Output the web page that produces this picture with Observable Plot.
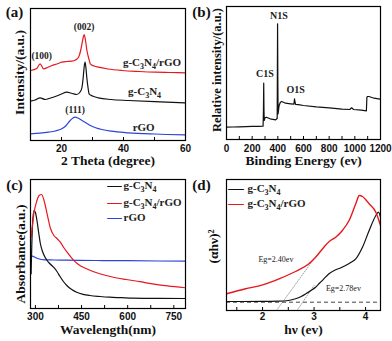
<!DOCTYPE html>
<html><head><meta charset="utf-8">
<script src="https://cdn.jsdelivr.net/npm/d3@7"></script>
<script src="https://cdn.jsdelivr.net/npm/@observablehq/plot@0.6"></script>
<style>
body{margin:0;background:#fff;}
#fig{position:relative;width:392px;height:341px;overflow:hidden;background:#fff;}
#fig svg{position:absolute;}
</style></head><body><div id="fig"></div>
<script>
// ---------- (a) XRD ----------
const xrdThetaComposite = [10, 12, 13.1, 14.2, 15.5, 16.9, 18.5, 20.1, 21.7, 23.3, 24.5, 25.5, 26.1, 26.6, 27.0, 27.3, 27.7, 28.2, 28.8, 29.3, 30.5, 31.9, 35, 39.5, 45, 50.2, 55, 60];
const xrdIComposite     = [70, 72, 76.7, 71.7, 73, 75, 76.5, 78.3, 79, 79.3, 80.5, 83.3, 89, 96.7, 103, 106, 101, 90, 82, 76.7, 74.5, 73.3, 71.5, 70, 69, 68.3, 68, 67.7];
const xrdThetaCN = [10, 11.5, 13.1, 14.7, 16.5, 18, 20, 21.7, 23.5, 24.9, 26, 26.6, 27.0, 27.3, 27.6, 27.9, 28.2, 28.6, 28.9, 30, 31.9, 36, 41.6, 50, 60];
const xrdICN     = [39.3, 40.5, 42.7, 41, 42.5, 44, 46.5, 48.3, 47, 46, 48.5, 53, 63, 73.3, 78.3, 72, 61.7, 52, 46.7, 44.5, 42.7, 41, 40, 38.8, 37.7];
const xrdThetaRGO = [10, 13, 15.8, 18, 20.1, 21.5, 22.8, 23.7, 24.4, 25.3, 26.6, 28, 29.3, 31, 33, 36, 41.6, 50, 60];
const xrdIRGO     = [6.7, 7.3, 8.3, 9.5, 11.7, 15, 20, 22.5, 23.3, 22.5, 20, 17.5, 15, 12.8, 11, 9.3, 7.7, 6.5, 5.7];
const xrdTicks = [20, 40, 60];
const xrdMinorTicks = [20, 30, 40, 50];
const xrdPeakLabels = ["(100)", "(002)", "(111)"];
const xrdPeakTheta  = [13.6, 27.3, 24.4];
const xrdPeakI      = [85, 114, 30.7];
const xrdSeriesLabels = ["g-C3N4/rGO", "g-C3N4", "rGO"];
const xrdSeriesTheta  = [49.2, 46.8, 46.5];
const xrdSeriesI      = [78.3, 49, 13.3];

// ---------- (b) XPS ----------
const xpsBE = [0, 50, 100, 150, 200, 250, 285, 288, 290, 292, 294, 300, 310, 340, 383, 395, 398, 400, 402, 410, 420, 430, 460, 500, 525, 530, 533, 538, 560, 600, 700, 800, 900, 960, 975, 990, 1050, 1090, 1094, 1100, 1110, 1150, 1200];
const xpsI  = [12.3, 12.5, 12.7, 12.9, 13.1, 13.2, 13.3, 30, 56.3, 30, 19, 21.7, 22.3, 20.7, 19.7, 21, 115.7, 60, 25.7, 34, 37.3, 38, 36.3, 35.7, 35.3, 40.7, 38, 35.2, 34.8, 34, 32.7, 31.7, 30.3, 30, 31.7, 30, 29.3, 28.7, 42.3, 43, 43, 41.3, 40.3];
const xpsTicks = [0, 200, 400, 600, 800, 1000, 1200];
const xpsMinorTicks = [100, 200, 300, 400, 500, 600, 700, 800, 900, 1000, 1100];
const xpsPeakLabels = ["C1S", "N1S", "O1S"];
const xpsPeakBE     = [300, 409, 539];
const xpsPeakI      = [66, 124, 50];

// ---------- (c) UV-vis ----------
const uvWlCN = [286, 290, 295, 300, 305, 311, 316, 322, 330, 338, 348, 359, 370, 380, 391, 402, 418, 434, 455, 477, 510, 541, 580, 616, 700, 788];
const uvACN  = [34.7, 80, 98, 96, 88, 75, 65, 58, 52, 48, 44.5, 41.3, 37, 32, 27, 23, 19, 16.3, 14.2, 13, 12, 11.3, 10.8, 10.3, 10.1, 10];
const uvWlComposite = [286, 290, 295, 305, 312, 320, 328, 338, 349, 360, 370, 381, 392, 403, 423, 440, 466, 509, 550, 595, 640, 681, 730, 788];
const uvAComposite  = [71, 82, 95, 108, 113, 114, 108, 94.7, 80, 73, 70, 66.3, 61, 56.3, 48.7, 44, 39.7, 34.7, 31.5, 29, 26.8, 24.7, 22.7, 20.7];
const uvWlRGO = [286, 290, 300, 310, 330, 360, 400, 500, 600, 700, 788];
const uvARGO  = [52, 52.3, 51, 49.7, 48.7, 48.5, 48.3, 48, 47.8, 47.5, 47.3];
const uvTicks = [300, 450, 600, 750];
const uvMinorTicks = [300, 375, 450, 525, 600, 675, 750];
const uvLegend = ["g-C3N4", "g-C3N4/rGO", "rGO"];

// ---------- (d) Tauc ----------
const taucHvCN = [1.30, 1.6, 2.0, 2.32, 2.5, 2.64, 2.75, 2.84, 2.94, 3.03, 3.11, 3.19, 3.29, 3.42, 3.52, 3.61, 3.71, 3.81, 3.94, 4.07, 4.2, 4.25, 4.29];
const taucYCN  = [9, 9, 9.1, 9.3, 10, 11.7, 14, 16.7, 20, 23.3, 27.5, 31.7, 36.7, 40.7, 42.7, 45, 48, 51.7, 63.3, 80, 95, 98.3, 93.3];
const taucHvComposite = [1.30, 1.67, 2.0, 2.32, 2.64, 2.9, 3.03, 3.19, 3.3, 3.42, 3.55, 3.68, 3.81, 3.88, 3.94, 4.0, 4.07, 4.2, 4.29];
const taucYComposite  = [16.7, 21.7, 25.7, 31.7, 39, 46.7, 53.3, 63.3, 69.3, 73.3, 80, 90, 106.7, 115, 114, 111, 106.7, 98.3, 85];
const taucBaseline = 8.3;
const tangentCompositeHv = [2.27, 2.94];
const tangentCompositeY  = [0, 47.5];
const tangentCNHv = [2.67, 3.0];
const tangentCNY  = [0, 25];
const taucTicks = [2, 3, 4];
const taucMinorTicks = [1.5, 2, 2.5, 3, 3.5, 4];
const taucLegend = ["g-C3N4", "g-C3N4/rGO"];
const egLabels = ["Eg=2.40ev", "Eg=2.78ev"];
const egHv = [2.26, 3.57];
const egY  = [51, 22];

// ---------- styling ----------
const SERIF = "'Liberation Serif','Times New Roman',serif";
const SANS = "'Liberation Sans',Arial,sans-serif";
const RED = "#e5181e", BLUE = "#2c44d8", BLACK = "#111111";

const rows = (xs, ys) => xs.map((x, i) => ({x, y: ys[i]}));
const labelRows = (ts, xs, ys) => ts.map((t, i) => ({t, x: xs[i], y: ys[i]}));

function chem(svg) {
  svg.querySelectorAll("text").forEach(t => {
    const s = t.textContent;
    if (!s.includes("C3N4")) return;
    const parts = s.split(/(3|4)/);
    while (t.firstChild) t.removeChild(t.firstChild);
    let shifted = false;
    parts.forEach((p, i) => {
      if (!p) return;
      const ts = document.createElementNS("http://www.w3.org/2000/svg", "tspan");
      ts.textContent = p;
      if (i % 2 === 1) { ts.setAttribute("dy", "3"); ts.setAttribute("font-size", "8"); shifted = true; }
      else if (shifted) { ts.setAttribute("dy", "-3"); shifted = false; }
      t.appendChild(ts);
    });
  });
}

function panel(c) {
  const fh = c.height - c.mt - c.mb;
  const svg = Plot.plot({
    width: c.width, height: c.height,
    marginTop: c.mt, marginRight: c.mr, marginBottom: c.mb, marginLeft: c.ml,
    x: {domain: c.xDomain},
    y: {domain: c.yDomain, axis: null},
    style: {background: "transparent", overflow: "visible"},
    marks: [
      ...c.marks,
      Plot.tickX(c.minor, {x: d => d, insetTop: fh - 3, stroke: "#000", strokeWidth: 1}),
      Plot.frame({stroke: "#000", strokeWidth: 1.2}),
      Plot.axisX(c.ticks, {tickSize: 0, tickPadding: c.pad, fontSize: 10, fontWeight: "bold", fontFamily: SANS, fill: "#111", label: null, tickFormat: d => String(d)}),
      Plot.text([c.xTitle], {text: d => d, frameAnchor: "bottom", dy: c.xTitleDy, lineAnchor: "middle", fontFamily: SERIF, fontWeight: "bold", fontSize: 13.5, fill: "#111"}),
      Plot.text([c.yTitle], {text: d => d, frameAnchor: "left", dx: c.yTitleDx, dy: c.yTitleDy, rotate: -90, lineAnchor: "middle", textAnchor: "middle", fontFamily: SERIF, fontWeight: "bold", fontSize: c.yTitleSize, fill: "#111"}),
      Plot.text([c.letter], {text: d => d, frameAnchor: "top-left", dx: c.letterDx, dy: c.letterDy, lineAnchor: "middle", textAnchor: "middle", fontFamily: SERIF, fontWeight: "bold", fontSize: 15, fill: "#111"})
    ]
  });
  svg.style.left = c.left + "px";
  svg.style.top = c.top + "px";
  chem(svg);
  document.getElementById("fig").appendChild(svg);
}

const lineOpts = (color, w = 1.2, curve = "monotone-x") => ({x: "x", y: "y", stroke: color, strokeWidth: w, curve, clip: true});
const serifLabel = (size, extra = {}) => ({x: "x", y: "y", text: "t", fontFamily: SERIF, fontWeight: "bold", fontSize: size, fill: "#222", ...extra});

function legendMarks(labels, colors, dashDx, textDx, dys, dashSize) {
  const out = [];
  labels.forEach((lab, i) => {
    out.push(Plot.text(["\u2014"], {text: d => d, frameAnchor: "top-left", dx: dashDx, dy: dys[i], textAnchor: "start", lineAnchor: "middle", fontFamily: SERIF, fontSize: dashSize, fill: colors[i], stroke: colors[i], strokeWidth: 0.5}));
    out.push(Plot.text([lab], {text: d => d, frameAnchor: "top-left", dx: textDx, dy: dys[i], textAnchor: "start", lineAnchor: "middle", fontFamily: SERIF, fontWeight: "bold", fontSize: 11, fill: "#222"}));
  });
  return out;
}

// (a)
panel({
  left: 0, top: 0, width: 196, height: 172, mt: 8, mr: 11, mb: 32, ml: 30,
  xDomain: [10, 60], yDomain: [0, 132], ticks: xrdTicks, minor: xrdMinorTicks, pad: 4,
  xTitle: "2 Theta (degree)", xTitleDy: 20,
  yTitle: "Intensity/(a.u.)", yTitleDx: -11, yTitleDy: -2, yTitleSize: 13.5,
  letter: "(a)", letterDx: -16, letterDy: 4,
  marks: [
    Plot.line(rows(xrdThetaRGO, xrdIRGO), lineOpts(BLUE)),
    Plot.line(rows(xrdThetaCN, xrdICN), lineOpts(BLACK)),
    Plot.line(rows(xrdThetaComposite, xrdIComposite), lineOpts(RED)),
    Plot.text(labelRows(xrdPeakLabels, xrdPeakTheta, xrdPeakI), serifLabel(9.5)),
    Plot.text(labelRows(xrdSeriesLabels, xrdSeriesTheta, xrdSeriesI), serifLabel(11))
  ]
});

// (b)
panel({
  left: 196, top: 0, width: 196, height: 172, mt: 6, mr: 12, mb: 33, ml: 30,
  xDomain: [0, 1200], yDomain: [0, 133], ticks: xpsTicks, minor: xpsMinorTicks, pad: 5,
  xTitle: "Binding Energy (ev)", xTitleDy: 21,
  yTitle: "Relative intensity/(a.u.)", yTitleDx: -9.5, yTitleDy: -3, yTitleSize: 12.5,
  letter: "(b)", letterDx: -25, letterDy: 6,
  marks: [
    Plot.line(rows(xpsBE, xpsI), lineOpts(BLACK, 1.2, "linear")),
    Plot.text(labelRows(xpsPeakLabels, xpsPeakBE, xpsPeakI), serifLabel(10))
  ]
});

// (c)
panel({
  left: 0, top: 172, width: 196, height: 169, mt: 7, mr: 11, mb: 33, ml: 30,
  xDomain: [284, 788], yDomain: [0, 129], ticks: uvTicks, minor: uvMinorTicks, pad: 4,
  xTitle: "Wavelength(nm)", xTitleDy: 21,
  yTitle: "Absorbance(a.u.)", yTitleDx: -10, yTitleDy: 10, yTitleSize: 13.5,
  letter: "(c)", letterDx: -16, letterDy: 6,
  marks: [
    Plot.line(rows(uvWlRGO, uvARGO), lineOpts(BLUE)),
    Plot.line(rows(uvWlCN, uvACN), lineOpts(BLACK)),
    Plot.line(rows(uvWlComposite, uvAComposite), lineOpts(RED)),
    ...legendMarks(uvLegend, [BLACK, RED, BLUE], 77, 93, [6, 22.7, 37.7], 14)
  ]
});

// (d)
panel({
  left: 196, top: 172, width: 196, height: 169, mt: 7, mr: 12, mb: 31, ml: 30,
  xDomain: [1.30, 4.29], yDomain: [0, 131], ticks: taucTicks, minor: taucMinorTicks, pad: 2.5,
  xTitle: "h\u03bd (ev)", xTitleDy: 19,
  yTitle: "(\u03b1h\u03bd)\u00b2", yTitleDx: -13, yTitleDy: 1.5, yTitleSize: 13.5,
  letter: "(d)", letterDx: -25, letterDy: 6,
  marks: [
    Plot.ruleY([taucBaseline], {stroke: "#444", strokeWidth: 1, strokeDasharray: "4,3"}),
    Plot.line(rows(tangentCompositeHv, tangentCompositeY), {...lineOpts("#888", 0.8, "linear"), strokeDasharray: "1,1.5"}),
    Plot.line(rows(tangentCNHv, tangentCNY), {...lineOpts("#888", 0.8, "linear"), strokeDasharray: "1,1.5"}),
    Plot.line(rows(taucHvCN, taucYCN), lineOpts(BLACK)),
    Plot.line(rows(taucHvComposite, taucYComposite), lineOpts(RED, 1.4)),
    Plot.text(labelRows(egLabels, egHv, egY), {x: "x", y: "y", text: "t", fontFamily: SERIF, fontSize: 8, fill: "#222"}),
    ...legendMarks(taucLegend, [BLACK, RED], 2, 21, [9, 24], 15)
  ]
});
</script></body></html>
